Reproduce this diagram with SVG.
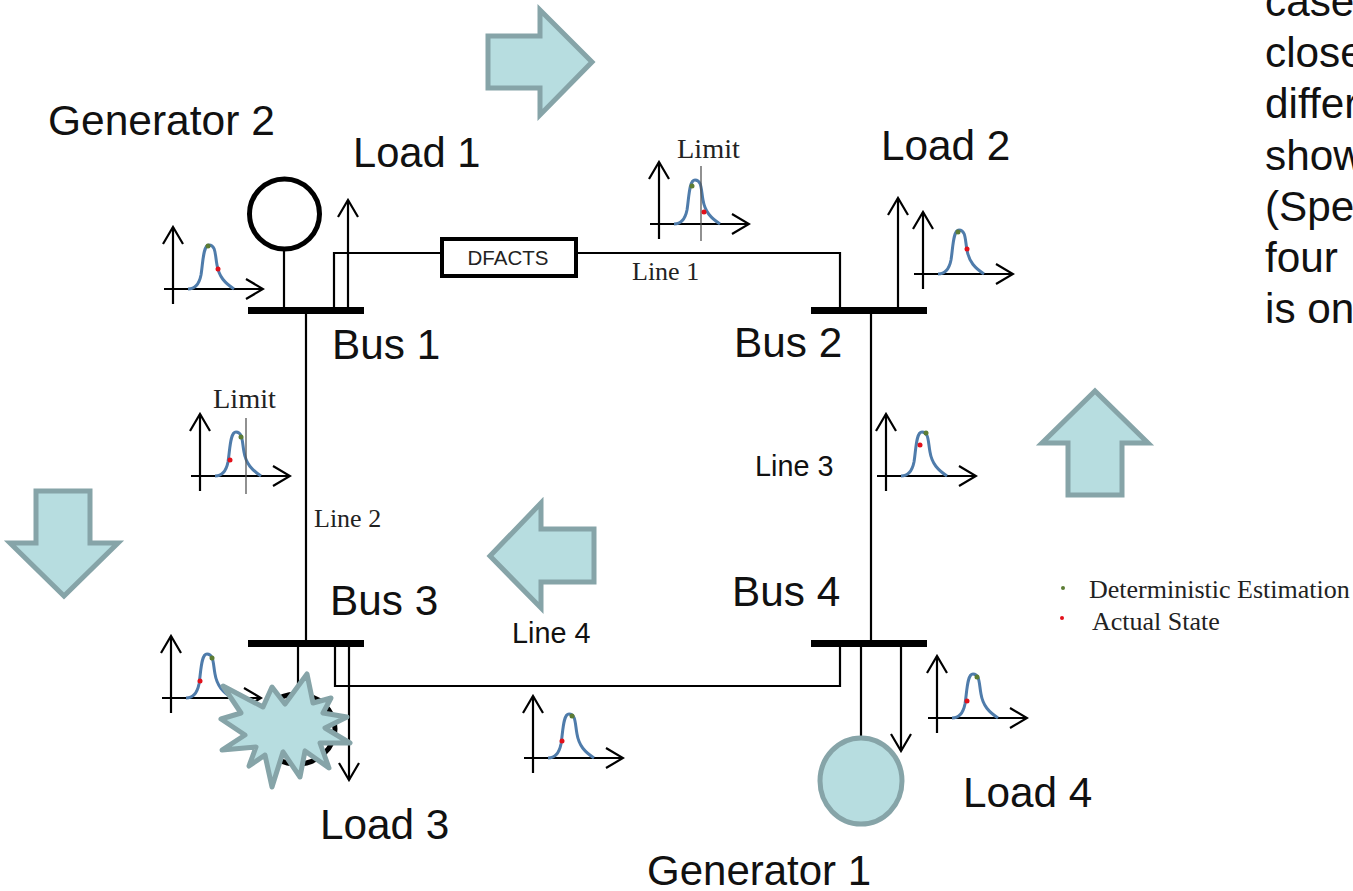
<svg xmlns="http://www.w3.org/2000/svg" xmlns:xlink="http://www.w3.org/1999/xlink" width="1353" height="891" viewBox="0 0 1353 891">
<style>
.sans{font-family:"Liberation Sans",Arial,sans-serif;fill:#111}
.serif{font-family:"Liberation Serif","Times New Roman",serif;fill:#222}
.big{font-size:42.3px}
.small{font-size:28.8px}
.ser{font-size:26px}
.lim{font-size:28.3px}
.wire{fill:none;stroke:#000;stroke-width:2.2}
.axis{fill:none;stroke:#000;stroke-width:2.2}
.limit{stroke:#555;stroke-width:1.3}
.bus{fill:#000}
.curve{fill:none;stroke:#4f7cab;stroke-width:3}
.blue{fill:#b7dde0;stroke:#86a4a8;stroke-width:5;stroke-linejoin:miter}
.red{fill:#e3101a}
.green{fill:#5c7c34}
</style>
<defs>
<marker id="arr" viewBox="-19 -12 21 24" refX="0" refY="0" markerWidth="21" markerHeight="24" markerUnits="userSpaceOnUse" orient="auto">
<path d="M-17,-10 L0,0 L-17,10" fill="none" stroke="#000" stroke-width="2.200"/>
</marker>
<g id="plot">
<path class="axis" d="M0,15 V-62" marker-end="url(#arr)"/>
<path class="axis" d="M-9,0 H90" marker-end="url(#arr)"/>
<path class="curve" d="M15,0 C22,0 26,-4 28,-14 C30,-26 30,-44 36,-44 C43,-44 42,-34 44,-24 C46,-12 52,-6 61,0"/>
</g>
</defs>

<g id="connectors">
<path class="wire" d="M284,251 V308"/>
<path class="wire" d="M334,308 V253 H442"/>
<path class="wire" d="M576,253 H840 V308"/>
<path class="wire" d="M306,314 V640"/>
<path class="wire" d="M871,314 V640"/>
<path class="wire" d="M298,646 V700"/>
<path class="wire" d="M335,646 V686 H840 V646"/>
<path class="wire" d="M861,646 V737"/>
<path class="wire" d="M348,307 V200" marker-end="url(#arr)"/>
<path class="wire" d="M898,307 V198" marker-end="url(#arr)"/>
<path class="wire" d="M349,646 V780" marker-end="url(#arr)"/>
<path class="wire" d="M901,646 V751" marker-end="url(#arr)"/>
</g>

<g id="bus1"><rect class="bus" x="248" y="307" width="116" height="7"/><text class="sans big" x="332" y="359">Bus 1</text></g>
<g id="bus2"><rect class="bus" x="811" y="307" width="116" height="7"/><text class="sans big" x="734" y="357">Bus 2</text></g>
<g id="bus3"><rect class="bus" x="248" y="640" width="116" height="7"/><text class="sans big" x="330" y="615">Bus 3</text></g>
<g id="bus4"><rect class="bus" x="811" y="640" width="116" height="7"/><text class="sans big" x="732" y="606">Bus 4</text></g>

<g id="generator2"><circle cx="284.500" cy="214" r="35" fill="#fff" stroke="#000" stroke-width="5"/><text class="sans" font-size="42.500" x="48" y="135">Generator 2</text></g>
<g id="generator1"><ellipse class="blue" cx="861" cy="781" rx="41" ry="43"/><text class="sans" font-size="42" x="647" y="885">Generator 1</text></g>
<g id="generator3"><ellipse cx="297" cy="729" rx="38" ry="35" fill="#fff" stroke="#000" stroke-width="5"/></g>

<g id="load1"><text class="sans" font-size="41.700" x="353" y="167">Load 1</text></g>
<g id="load2"><text class="sans big" x="881" y="160">Load 2</text></g>
<g id="load3"><text class="sans big" x="320" y="839">Load 3</text></g>
<g id="load4"><text class="sans big" x="963" y="807">Load 4</text></g>

<g id="dfacts"><rect x="442" y="239" width="134" height="37" fill="#fff" stroke="#000" stroke-width="4"/><text class="sans" font-size="20.500" x="508" y="265" text-anchor="middle" style="fill:#222">DFACTS</text></g>

<g id="line-labels">
<text class="serif ser" x="632" y="280">Line 1</text>
<text class="serif ser" x="314" y="527">Line 2</text>
<text class="sans small" x="755" y="476">Line 3</text>
<text class="sans small" x="512" y="643">Line 4</text>
</g>

<g id="plot-gen2"><use href="#plot" xlink:href="#plot" x="173" y="289"/><circle class="green" cx="208" cy="246" r="2.500"/><circle class="red" cx="218" cy="269" r="2.500"/></g>
<g id="plot-line1"><use href="#plot" xlink:href="#plot" x="659" y="224"/><line class="limit" x1="701" y1="166" x2="701" y2="241"/><circle class="green" cx="692" cy="186" r="2.500"/><circle class="red" cx="704" cy="212" r="2.500"/><text class="serif lim" x="677" y="158">Limit</text></g>
<g id="plot-load2"><use href="#plot" xlink:href="#plot" x="923" y="274"/><circle class="green" cx="958" cy="232" r="2.500"/><circle class="red" cx="967" cy="249" r="2.500"/></g>
<g id="plot-line2"><use href="#plot" xlink:href="#plot" x="200" y="476"/><line class="limit" x1="246" y1="418" x2="246" y2="494"/><circle class="green" cx="241" cy="437" r="2.500"/><circle class="red" cx="230" cy="460" r="2.500"/><text class="serif lim" x="213" y="408">Limit</text></g>
<g id="plot-line3"><use href="#plot" xlink:href="#plot" x="886" y="476"/><circle class="green" cx="926" cy="433" r="2.500"/><circle class="red" cx="920" cy="445" r="2.500"/></g>
<g id="plot-bus3"><use href="#plot" xlink:href="#plot" x="171" y="698"/><circle class="green" cx="212" cy="658" r="2.500"/><circle class="red" cx="200" cy="681" r="2.500"/></g>
<g id="plot-line4"><use href="#plot" xlink:href="#plot" x="533" y="758"/><circle class="green" cx="572" cy="716" r="2.500"/><circle class="red" cx="562" cy="741" r="2.500"/></g>
<g id="plot-load4"><use href="#plot" xlink:href="#plot" x="937" y="718"/><circle class="green" cx="977" cy="677" r="2.500"/><circle class="red" cx="967" cy="701" r="2.500"/></g>

<g id="flow-right"><polygon class="blue" points="488,36 540,36 540,10 592,62 540,115 540,88 488,88"/></g>
<g id="flow-up"><polygon class="blue" points="1095,391 1148,443 1122,443 1122,495 1068,495 1068,443 1042,443"/></g>
<g id="flow-left"><polygon class="blue" points="490,556 541,503 541,529 594,529 594,582 541,582 541,608"/></g>
<g id="flow-down"><polygon class="blue" points="36,491 90,491 90,543 118,543 64,596 10,543 36,543"/></g>

<g id="fault"><polygon class="blue" style="stroke-linejoin:round" points="223,686 263,707 272,687 285,704 307,674 313,703 331,698 323,713 347,717 325,728 350,743 320,743 329,768 305,751 300,777 283,752 272,787 265,755 249,766 256,747 222,750 245,735 221,719 241,713"/></g>

<g id="legend">
<circle class="green" cx="1063" cy="588" r="2"/>
<circle class="red" cx="1062" cy="618" r="2"/>
<text class="serif ser" x="1089" y="598">Deterministic Estimation</text>
<text class="serif ser" x="1092" y="630">Actual State</text>
</g>

<g id="side-text">
<text class="sans big" x="1265" y="16">case</text>
<text class="sans big" x="1265" y="67">close</text>
<text class="sans big" x="1265" y="118">differ</text>
<text class="sans big" x="1265" y="170">show</text>
<text class="sans big" x="1265" y="221">(Spe</text>
<text class="sans big" x="1265" y="272">four</text>
<text class="sans big" x="1265" y="323">is on</text>
</g>
</svg>
